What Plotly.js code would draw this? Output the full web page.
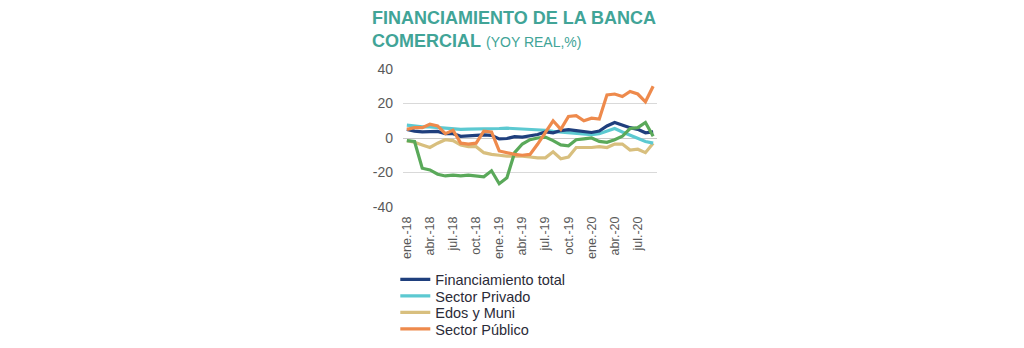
<!DOCTYPE html>
<html>
<head>
<meta charset="utf-8">
<script src="https://cdn.plot.ly/plotly-3.0.1.min.js"></script>
<style>html,body{margin:0;padding:0;background:#fff;}#chart{width:1024px;height:348px;}</style>
</head>
<body>
<div id="chart"></div>
<script>
const months = ['ene.-18','feb.-18','mar.-18','abr.-18','may.-18','jun.-18','jul.-18','ago.-18','sep.-18','oct.-18','nov.-18','dic.-18',
                'ene.-19','feb.-19','mar.-19','abr.-19','may.-19','jun.-19','jul.-19','ago.-19','sep.-19','oct.-19','nov.-19','dic.-19',
                'ene.-20','feb.-20','mar.-20','abr.-20','may.-20','jun.-20','jul.-20','ago.-20','sep.-20'];
const tickLabels = ['ene.-18','abr.-18','jul.-18','oct.-18','ene.-19','abr.-19','jul.-19','oct.-19','ene.-20','abr.-20','jul.-20'];

const financiamientoTotal = [5, 4, 3.5, 3.5, 3.8, 2.5, 2.5, 1, 1.3, 1.3, 1.8, 1.5, -0.5, -0.3, 0.8, 0.5, 1.3, 2, 3.5, 3, 4.3, 4.8, 4.3, 3.7, 3.2, 4, 7, 9, 7.5, 6, 5, 3, 3.5];
const sectorPrivado = [7.5, 7, 6.5, 6.5, 6.2, 5.8, 5.5, 5, 5.2, 5.2, 5.5, 5.5, 5.5, 5.7, 5.5, 5.3, 5, 4.5, 4.5, 3.8, 3.5, 3.2, 3, 2.5, 2, 2.5, 4, 5.5, 3.5, 1.5, -0.5, -2, -3];
const edosMuni = [-1.5, -2.5, -4, -5.5, -3, -1, -1.5, -4, -5, -5, -8.5, -9.5, -10, -10.5, -10.5, -10.5, -11, -11.5, -11.5, -8, -12, -11, -5.5, -5.5, -5.5, -5, -5.5, -3.5, -3.5, -7, -6.5, -8.5, -3];
const sectorPublico = [5, 6, 6, 8, 7, 2.5, 4.5, -3, -3.5, -3, 4, 3.5, -7.5, -8.5, -9.5, -10, -9.5, -3.5, 3, 10, 5, 12.5, 13, 10, 11.5, 11, 25, 25.5, 24, 27, 25.5, 21, 30];
const serieVerde = [-1.5, -2, -17.5, -18.5, -21, -22, -21.5, -22, -21.5, -22, -22.5, -19, -26.5, -23, -8.5, -3.5, -1, 0, 0.5, -1.5, -4, -4.5, -1, -0.5, 0, -2, -2.5, -1, 1, 5.5, 6, 9, 1];

const FONT = 'Liberation Sans, Arial, sans-serif';
function line(name, y, color, legendId, show) {
  return {type:'scatter', mode:'lines', name:name, x:months, y:y,
          line:{color:color, width:3.2}, legend:legendId, showlegend:show, hoverinfo:'skip'};
}
const traces = [
  line('Edos y Muni', edosMuni, '#d8bf7e', 'legend3', true),
  line('Sector Privado', sectorPrivado, '#5cc9d1', 'legend2', true),
  line('Financiamiento total', financiamientoTotal, '#1f3f7d', 'legend', true),
  line('', serieVerde, '#5aa95a', 'legend', false),
  line('Sector Público', sectorPublico, '#ee8a4c', 'legend4', true)
];

const L = 402.7, R = 656.7, T = 69.3, B = 206.7;
const pw = R - L;
const legFont = {family: FONT, size: 14.5, color: '#2b2b38'};
function leg(py) {
  return {x: (395 - L) / pw, xref:'paper', y: 1 - py / 348, yref:'container', xanchor:'left', yanchor:'middle',
          bgcolor:'rgba(0,0,0,0)', borderwidth:0, font:legFont, itemwidth:30, traceorder:'normal'};
}
const boundaryTicks = tickLabels.map(m => months.indexOf(m) - 0.5);

const layout = {
  width:1024, height:348,
  margin:{l:L, r:1024-R, t:T, b:348-B, pad:0, autoexpand:false},
  paper_bgcolor:'#fff', plot_bgcolor:'#fff',
  showlegend:true,
  title:{
    text:'<b>FINANCIAMIENTO DE LA BANCA</b><br><b>COMERCIAL</b> <span style="font-size:14px">(YOY REAL,%)</span>',
    x:372/1024, xanchor:'left', xref:'container',
    y:1 - 24/348, yanchor:'top', yref:'container',
    font:{family:FONT, size:18, color:'#41a497'}
  },
  xaxis:{
    type:'category', range:[-0.5, months.length - 0.5], tickvals:tickLabels, ticktext:tickLabels,
    tickangle:-90, ticks:'', showgrid:false, showline:false, zeroline:false, automargin:false,
    tickfont:{family:FONT, size:12.5, color:'#595959'}, ticklabelstandoff:6, fixedrange:true
  },
  xaxis2:{
    overlaying:'x', anchor:'free', position:0.5, range:[-0.5, months.length - 0.5],
    tickvals:boundaryTicks, ticks:'outside', ticklen:4, tickcolor:'#bfbfbf', tickwidth:1,
    showticklabels:false, showgrid:false, zeroline:false, showline:false, automargin:false
  },
  yaxis:{
    range:[-40, 40], tickvals:[-40,-20,0,20,40], ticktext:['-40','-20','0','20','40'],
    showgrid:true, gridcolor:'#d9d9d9', gridwidth:1, zeroline:true, zerolinecolor:'#c8c8c8', zerolinewidth:1,
    showline:false, ticks:'', tickfont:{family:FONT, size:14, color:'#595959'}, ticklabelstandoff:9,
    automargin:false, fixedrange:true
  },
  legend: leg(279.5),
  legend2: leg(296),
  legend3: leg(312.5),
  legend4: leg(329)
};
Plotly.newPlot('chart', traces, layout, {staticPlot:true, displayModeBar:false});
</script>
</body>
</html>
